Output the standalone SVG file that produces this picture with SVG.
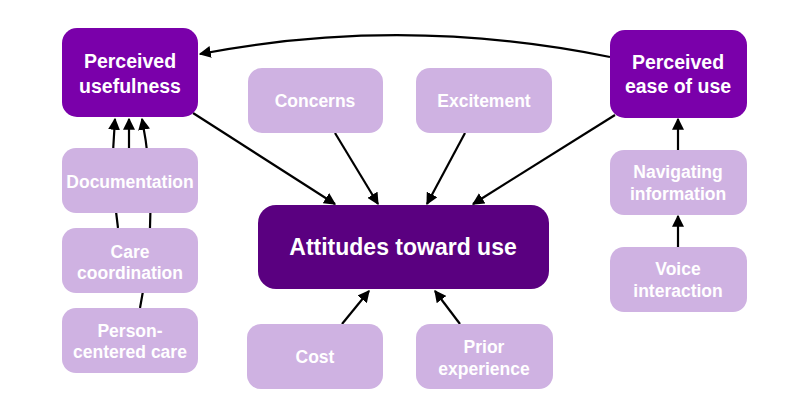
<svg xmlns="http://www.w3.org/2000/svg" width="796" height="417" viewBox="0 0 796 417">
<style>
.dark{fill:#7a00aa}
.darker{fill:#5a0080}
.light{fill:#cfb2e2}
text{font-family:"Liberation Sans",Arial,sans-serif;font-weight:bold;fill:#ffffff;text-anchor:middle}
.t19{font-size:19.5px}
.t17{font-size:17.5px}
.t23{font-size:23px}
.c{fill:none;stroke:#000;stroke-width:2.2}
</style>
<defs>
<marker id="ah" viewBox="0 0 10 10" refX="9" refY="5" markerWidth="12" markerHeight="12" markerUnits="userSpaceOnUse" orient="auto">
<path d="M0,0 L10,5 L0,10 z" fill="#000"/>
</marker>
</defs>
<rect width="796" height="417" fill="#fff"/>
<g id="connectors">
<path class="c" d="M610,57 Q404,15 200,54" marker-end="url(#ah)"/>
<path class="c" d="M129,148 L129,119" marker-end="url(#ah)"/>
<path class="c" d="M118,228 Q110,175 115,119" marker-end="url(#ah)"/>
<path class="c" d="M140,308 Q160,210 142,119" marker-end="url(#ah)"/>
<path class="c" d="M193,113 L335,204" marker-end="url(#ah)"/>
<path class="c" d="M335,133 L378,204" marker-end="url(#ah)"/>
<path class="c" d="M465,133 L427,204" marker-end="url(#ah)"/>
<path class="c" d="M615,115 L473,204" marker-end="url(#ah)"/>
<path class="c" d="M342,324 L369,291" marker-end="url(#ah)"/>
<path class="c" d="M460,324 L435,291" marker-end="url(#ah)"/>
<path class="c" d="M678,150 L678,119" marker-end="url(#ah)"/>
<path class="c" d="M678,247 L678,216" marker-end="url(#ah)"/>
</g>
<g id="perceived-usefulness">
<rect class="dark" x="62" y="28" width="136" height="89" rx="15"/>
<text class="t19" x="130" y="68">Perceived</text>
<text class="t19" x="130" y="93">usefulness</text>
</g>
<g id="perceived-ease-of-use">
<rect class="dark" x="610" y="30" width="137" height="88" rx="15"/>
<text class="t19" x="678" y="69">Perceived</text>
<text class="t19" x="678" y="93">ease of use</text>
</g>
<g id="attitudes-toward-use">
<rect class="darker" x="258" y="205" width="291" height="84" rx="18"/>
<text class="t23" x="403" y="255">Attitudes toward use</text>
</g>
<g id="concerns">
<rect class="light" x="248" y="68" width="135" height="65" rx="14"/>
<text class="t17" x="315" y="107">Concerns</text>
</g>
<g id="excitement">
<rect class="light" x="416" y="68" width="136" height="65" rx="14"/>
<text class="t17" x="484" y="107">Excitement</text>
</g>
<g id="documentation">
<rect class="light" x="62" y="148" width="136" height="65" rx="14"/>
<text class="t17" x="130" y="188">Documentation</text>
</g>
<g id="care-coordination">
<rect class="light" x="62" y="228" width="136" height="65" rx="14"/>
<text class="t17" x="130" y="258">Care</text>
<text class="t17" x="130" y="279">coordination</text>
</g>
<g id="person-centered-care">
<rect class="light" x="62" y="308" width="136" height="65" rx="14"/>
<text class="t17" x="130" y="337">Person-</text>
<text class="t17" x="130" y="358">centered care</text>
</g>
<g id="navigating-information">
<rect class="light" x="610" y="150" width="137" height="65" rx="14"/>
<text class="t17" x="678" y="178">Navigating</text>
<text class="t17" x="678" y="200">information</text>
</g>
<g id="voice-interaction">
<rect class="light" x="610" y="247" width="137" height="65" rx="14"/>
<text class="t17" x="678" y="275">Voice</text>
<text class="t17" x="678" y="297">interaction</text>
</g>
<g id="cost">
<rect class="light" x="247" y="324" width="136" height="65" rx="14"/>
<text class="t17" x="315" y="363">Cost</text>
</g>
<g id="prior-experience">
<rect class="light" x="416" y="324" width="137" height="65" rx="14"/>
<text class="t17" x="484" y="353">Prior</text>
<text class="t17" x="484" y="375">experience</text>
</g>
</svg>
